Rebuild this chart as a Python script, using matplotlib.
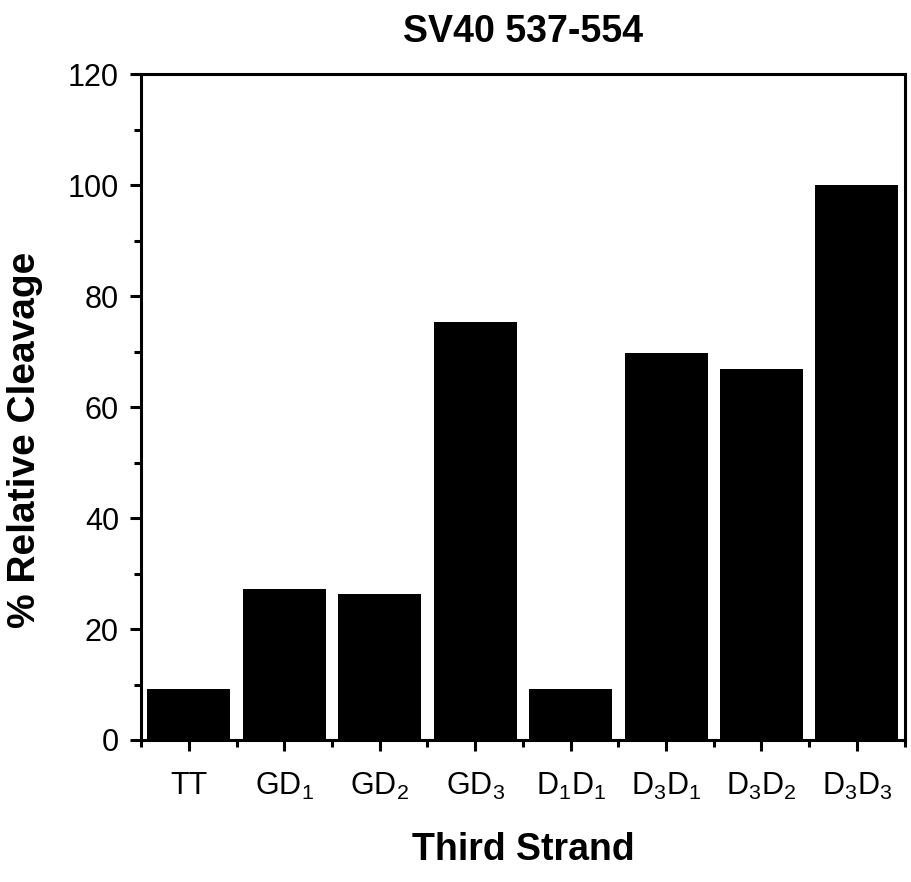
import numpy as np
import matplotlib
matplotlib.use('Agg')
import matplotlib.pyplot as plt
from matplotlib.ticker import MultipleLocator

plt.rcParams['font.family'] = ['Liberation Sans', 'DejaVu Sans']
plt.rcParams['mathtext.default'] = 'regular'

# data
strands = ['TT', 'GD$_1$', 'GD$_2$', 'GD$_3$', 'D$_1$D$_1$', 'D$_3$D$_1$', 'D$_3$D$_2$', 'D$_3$D$_3$']
cleavage = [9.2, 27.2, 26.3, 75.3, 9.2, 69.7, 66.8, 100]

fig = plt.figure(figsize=(9.11, 8.82), dpi=100)
ax = fig.add_axes([0.155, 0.161, 0.838, 0.755])

x = np.arange(len(strands))
ax.bar(x, cleavage, width=0.87, color='black')

ax.set_xlim(-0.5, len(strands) - 0.5)
ax.set_ylim(0, 120)
ax.set_xticks(x)
ax.set_xticklabels(strands)
ax.xaxis.set_minor_locator(MultipleLocator(1, offset=0.5))
ax.yaxis.set_major_locator(MultipleLocator(20))
ax.yaxis.set_minor_locator(MultipleLocator(10))

for s in ax.spines.values():
    s.set_linewidth(2.2)
ax.tick_params(which='major', direction='out', length=8, width=2.2, labelsize=22)
ax.tick_params(which='minor', direction='out', length=5, width=2.2)
ax.tick_params(axis='x', pad=14)
ax.tick_params(axis='y', pad=8)

ax.set_title('SV40 537-554', fontsize=27, fontweight='bold', pad=23)
ax.set_xlabel('Third Strand', fontsize=27, fontweight='bold', labelpad=22)
ax.set_ylabel('% Relative Cleavage', fontsize=28, fontweight='bold')
# label sits a little below the middle of the axis in the original
ax.yaxis.set_label_coords(-0.128, 0.45)

fig.savefig('out.png', dpi=100)
